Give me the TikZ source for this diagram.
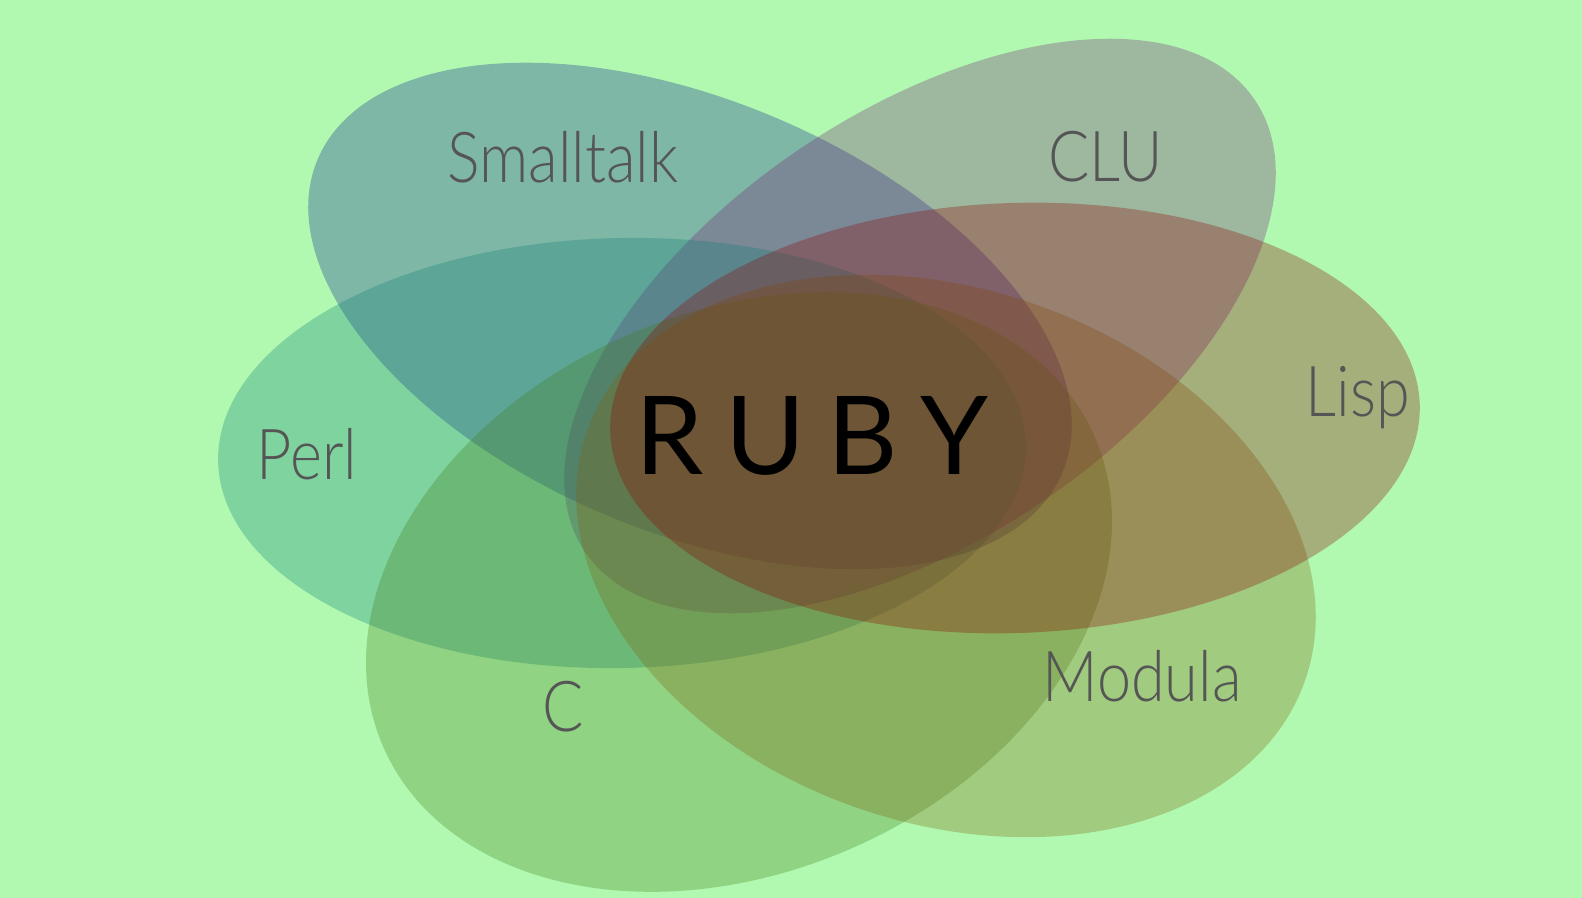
\documentclass[tikz,border=0pt]{standalone}
\usepackage{fontspec}
\setmainfont{Lato}
\newfontfamily\thinfont{Lato Light}[FakeStretch=0.87]

\definecolor{meadow}{RGB}{177,249,177}
\definecolor{smalltalkc}{RGB}{10,32,140}
\definecolor{cluc}{RGB}{117,32,120}
\definecolor{perlc}{RGB}{14,126,120}
\definecolor{cc}{RGB}{67,126,27}
\definecolor{modulac}{RGB}{127,99,14}
\definecolor{lispc}{RGB}{140,6,0}
\definecolor{labelgray}{RGB}{85,85,85}

\begin{document}
\begin{tikzpicture}[x=0.02cm, y=0.02cm,
  blob/.style = {fill opacity=0.3},
  lang/.style = {anchor=base, inner sep=0pt, text=labelgray, font=\thinfont\fontsize{40}{40}\selectfont},
  core/.style = {anchor=base, inner sep=0pt, text=black, font=\fontsize{62}{62}\selectfont}]
	\fill[meadow] (0,0) rectangle (1582,-898);
	\useasboundingbox (0,0) rectangle (1582,-898);

	% the six languages
	\fill[blob, smalltalkc, rotate around={-22.8:(690,-316)}] (690,-316) ellipse [x radius=404, y radius=216];
	\fill[blob, cluc, rotate around={34:(920,-326)}] (920,-326) ellipse [x radius=404, y radius=214];
	\fill[blob, perlc, rotate around={1.2:(622,-453)}] (622,-453) ellipse [x radius=404, y radius=215];
	\fill[blob, cc, rotate around={23.5:(739,-592)}] (739,-592) ellipse [x radius=388, y radius=280];
	\fill[blob, modulac, rotate around={-19:(946,-556)}] (946,-556) ellipse [x radius=380, y radius=267];
	\fill[blob, lispc, rotate around={2:(1015,-418)}] (1015,-418) ellipse [x radius=405, y radius=215];

	\node [lang] (smalltalk) at (563,-183) {Smalltalk};
	\node [lang] (clu) at (1106,-182) {CLU};
	\node [lang] (perl) at (307,-479) {Perl};
	\node [lang] (lisp) at (1358,-417) {Lisp};
	\node [lang] (c) at (563,-731) {C};
	\node [lang] (modula) at (1142,-701) {Modula};

	\node [core] (ruby) at (812,-474) {R\kern0.2em U\kern0.2em B\kern0.2em Y};
\end{tikzpicture}
\end{document}
